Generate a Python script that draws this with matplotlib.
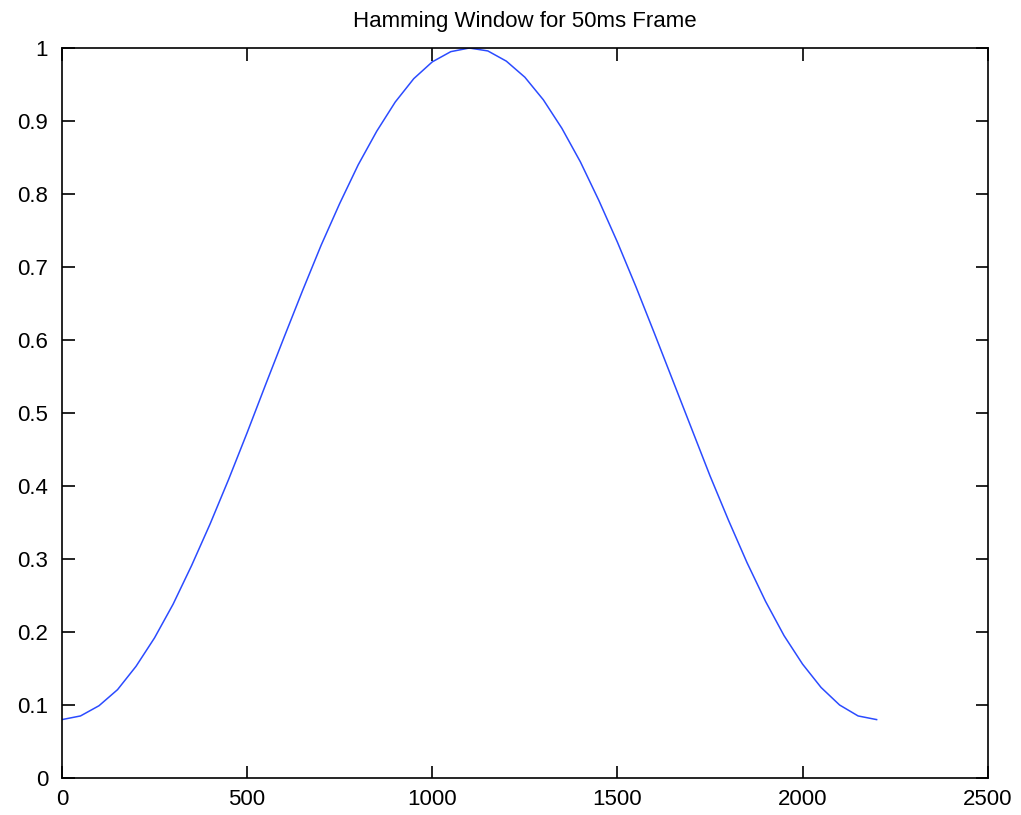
import matplotlib.pyplot as plt

# Window samples (every 50 samples of a 50 ms frame)
samples = [0, 50, 100, 150, 200, 250, 300, 350, 400, 450, 500, 550, 600,
           650, 700, 750, 800, 850, 900, 950, 1000, 1050, 1100, 1150, 1200,
           1250, 1300, 1350, 1400, 1450, 1500, 1550, 1600, 1650, 1700, 1750,
           1800, 1850, 1900, 1950, 2000, 2050, 2100, 2150, 2200]
amplitude = [0.080, 0.085, 0.099, 0.121, 0.153, 0.192, 0.238, 0.291, 0.348,
             0.409, 0.473, 0.539, 0.604, 0.668, 0.730, 0.787, 0.840, 0.886,
             0.926, 0.958, 0.981, 0.995, 1.000, 0.996, 0.982, 0.960, 0.929,
             0.890, 0.844, 0.791, 0.734, 0.673, 0.609, 0.544, 0.479, 0.414,
             0.353, 0.295, 0.242, 0.195, 0.156, 0.124, 0.100, 0.085, 0.080]

plt.rcParams["font.family"] = ["Liberation Sans", "DejaVu Sans"]

fig = plt.figure(figsize=(10.21, 8.15), dpi=100)
ax = fig.add_axes([0.0607, 0.0454, 0.9067, 0.8957])

ax.plot(samples, amplitude, color="#2b4bff", linewidth=1.1)

ax.set_xlim(0, 2500)
ax.set_ylim(0, 1)
ax.set_xticks([0, 500, 1000, 1500, 2000, 2500])
ax.set_yticks([0, 0.1, 0.2, 0.3, 0.4, 0.5, 0.6, 0.7, 0.8, 0.9, 1])
ax.set_yticklabels(["0", "0.1", "0.2", "0.3", "0.4", "0.5", "0.6", "0.7",
                    "0.8", "0.9", "1"])
ax.tick_params(direction="in", length=9, width=1.2, labelsize=16,
               top=True, right=True)
ax.tick_params(axis="x", pad=8)
ax.tick_params(axis="y", pad=10)
for spine in ax.spines.values():
    spine.set_linewidth(1.2)

ax.set_title("Hamming Window for 50ms Frame", fontsize=16, pad=15)

fig.savefig("out.png", dpi=100)
